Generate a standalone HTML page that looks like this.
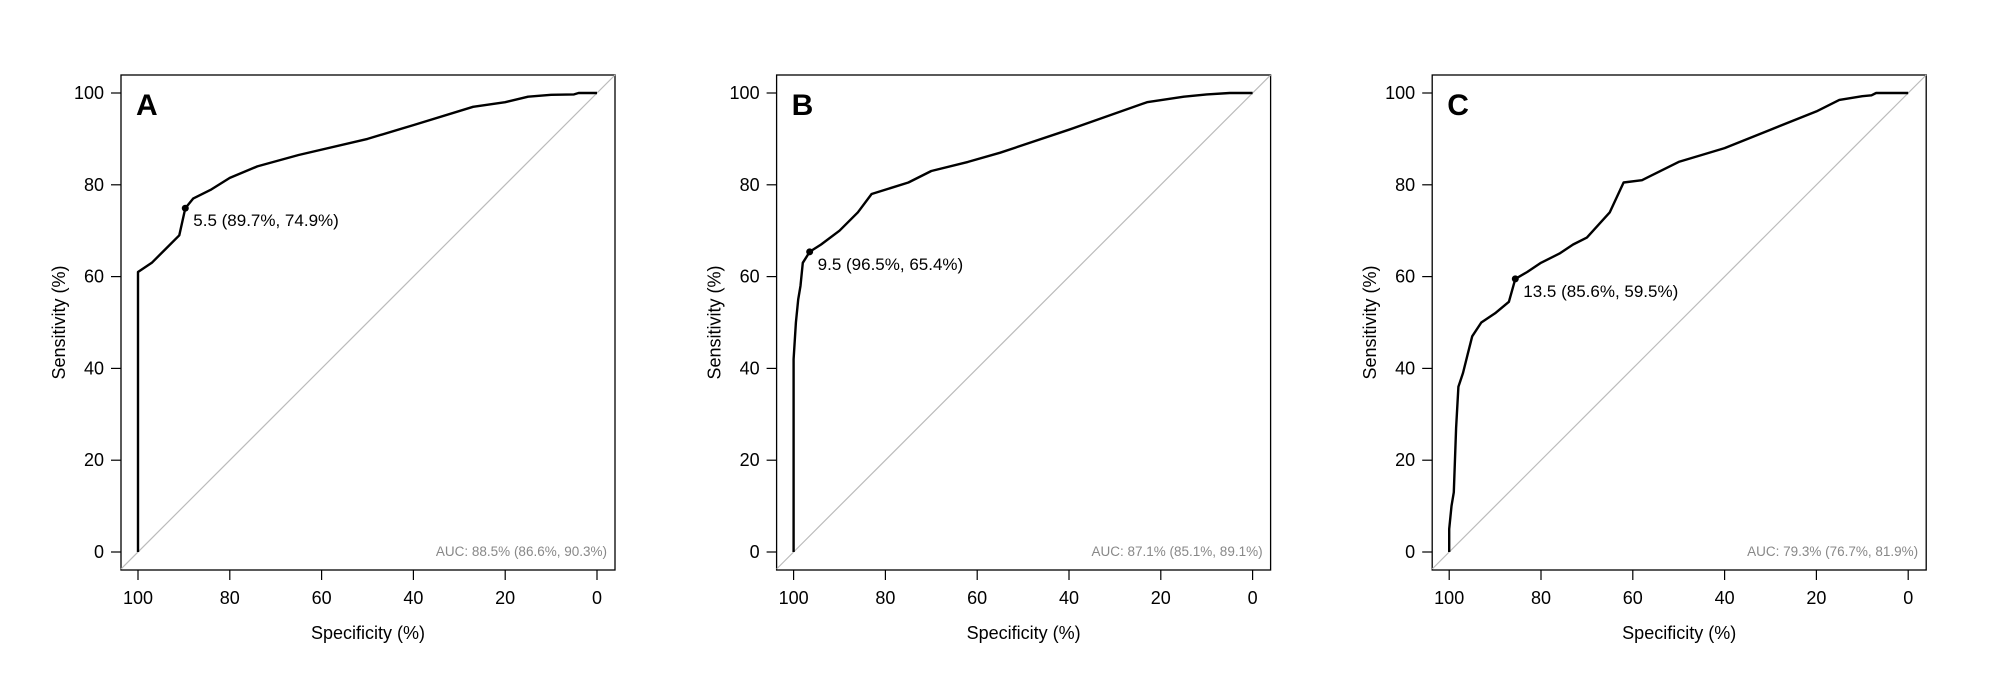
<!DOCTYPE html>
<html><head><meta charset="utf-8"><style>
html,body{margin:0;padding:0;background:#fff}
svg text{font-family:"Liberation Sans",Arial,sans-serif}
</style></head><body>
<svg id="root" width="2000" height="688" xmlns="http://www.w3.org/2000/svg"></svg>
<script>
const panelLetters = ["A","B","C"];
const specA = [100,100,97,94,91,89.7,88,84,80,74,65,50,40,27,20,15,10,5,4,0];
const sensA = [0,61,63,66,69,74.9,77,79,81.5,84,86.5,90,93,97,98,99.2,99.6,99.7,100,100];
const specB = [100,100,99.5,99,98.5,98,96.5,94,90,86,83,75,70,62,55,40,23,15,10,5,0];
const sensB = [0,42,50,55,58,63,65.4,67,70,74,78,80.5,83,85,87,92,98,99.2,99.7,100,100];
const specC = [100,100,99.5,99,98.5,98,97,96,95,93,90,87,85.6,83,80,76,73,70,65,62,58,55,50,45,40,30,20,15,10,8,7,0];
const sensC = [0,5,10,13,27,36,39,43,47,50,52,54.5,59.5,61,63,65,67,68.5,74,80.5,81,82.5,85,86.5,88,92,96,98.5,99.3,99.5,100,100];
const bestSpec = [89.7,96.5,85.6];
const bestSens = [74.9,65.4,59.5];
const bestLabels = ["5.5 (89.7%, 74.9%)","9.5 (96.5%, 65.4%)","13.5 (85.6%, 59.5%)"];
const aucLabels = ["AUC: 88.5% (86.6%, 90.3%)","AUC: 87.1% (85.1%, 89.1%)","AUC: 79.3% (76.7%, 81.9%)"];
const tickVals = [0,20,40,60,80,100];
const tickLabels = ["0","20","40","60","80","100"];

const NS="http://www.w3.org/2000/svg";
const root=document.getElementById('root');
function mk(tag,attrs,parent){const e=document.createElementNS(NS,tag);for(const k in attrs)e.setAttribute(k,attrs[k]);parent.appendChild(e);return e;}
const specs=[specA,specB,specC], senss=[sensA,sensB,sensC];
const PW=655.6;
for(let p=0;p<3;p++){
  const ox=p*PW;
  const bx0=121+ox,bx1=615+ox,by0=75,by1=570;
  const xs=v=>138+ox+(100-v)/100*(597-138);
  const ys=v=>552-(v/100)*(552-93);
  const g=mk('g',{},root);
  
  
  const box=mk('rect',{x:bx0,y:by0,width:bx1-bx0,height:by1-by0,fill:'none',stroke:'#000','stroke-width':1.3},g);
  
  
  // diagonal
  const dg=mk('line',{x1:xs(100)-(bx0-0<xs(100)?(xs(100)-bx0):0),y1:0,x2:0,y2:0,stroke:'#bbb','stroke-width':1.2},g);
  // clip diagonal to box: line spec=100-sens
  const dx0=bx0, dv0=100-(dx0-138-ox)/(597-138)*100; // spec at left edge
  const sensAtLeft=100-dv0;
  const dx1=bx1, dv1=100-(dx1-138-ox)/(597-138)*100;
  dg.setAttribute('x1',dx0);dg.setAttribute('y1',ys(100-dv0));
  dg.setAttribute('x2',dx1);dg.setAttribute('y2',ys(100-dv1));
  
  
  // axes ticks
  for(let i=0;i<tickVals.length;i++){
    const v=tickVals[i];
    const xt=mk('line',{x1:xs(v),x2:xs(v),y1:by1,y2:by1+10,stroke:'#000','stroke-width':1.2},g);
    
    
    const xl=mk('text',{x:xs(v),y:by1+34,'text-anchor':'middle','font-size':18},g);xl.textContent=tickLabels[i];
    
    
    const yt=mk('line',{x1:bx0-10,x2:bx0,y1:ys(v),y2:ys(v),stroke:'#000','stroke-width':1.2},g);
    
    
    const yl=mk('text',{x:bx0-17,y:ys(v)+6,'text-anchor':'end','font-size':18},g);yl.textContent=tickLabels[i];
    
    
  }
  const xt=mk('text',{x:(bx0+bx1)/2,y:639,'text-anchor':'middle','font-size':18},g);xt.textContent='Specificity (%)';
  
  
  const yt=mk('text',{x:0,y:0,'text-anchor':'middle','font-size':18,transform:`translate(${65+ox},${(by0+by1)/2}) rotate(-90)`},g);yt.textContent='Sensitivity (%)';
  
  
  const lt=mk('text',{x:bx0+15,y:115,'font-size':30,'font-weight':'bold'},g);lt.textContent=panelLetters[p];
  
  
  // curve
  const pts=specs[p].map((s,i)=>xs(s).toFixed(1)+','+ys(senss[p][i]).toFixed(1)).join(' ');
  const pl=mk('polyline',{points:pts,fill:'none',stroke:'#000','stroke-width':2.4,'stroke-linejoin':'round'},g);
  
  
  const c=mk('circle',{cx:xs(bestSpec[p]),cy:ys(bestSens[p]),r:3.5,fill:'#000'},g);
  
  
  const bl=mk('text',{x:xs(bestSpec[p])+8,y:ys(bestSens[p])+18,'font-size':17},g);bl.textContent=bestLabels[p];
  
  
  const al=mk('text',{x:bx1-8,y:by1-14,'text-anchor':'end','font-size':13.5,fill:'#888'},g);al.textContent=aucLabels[p];
  
  
}
</script>
</body></html>
